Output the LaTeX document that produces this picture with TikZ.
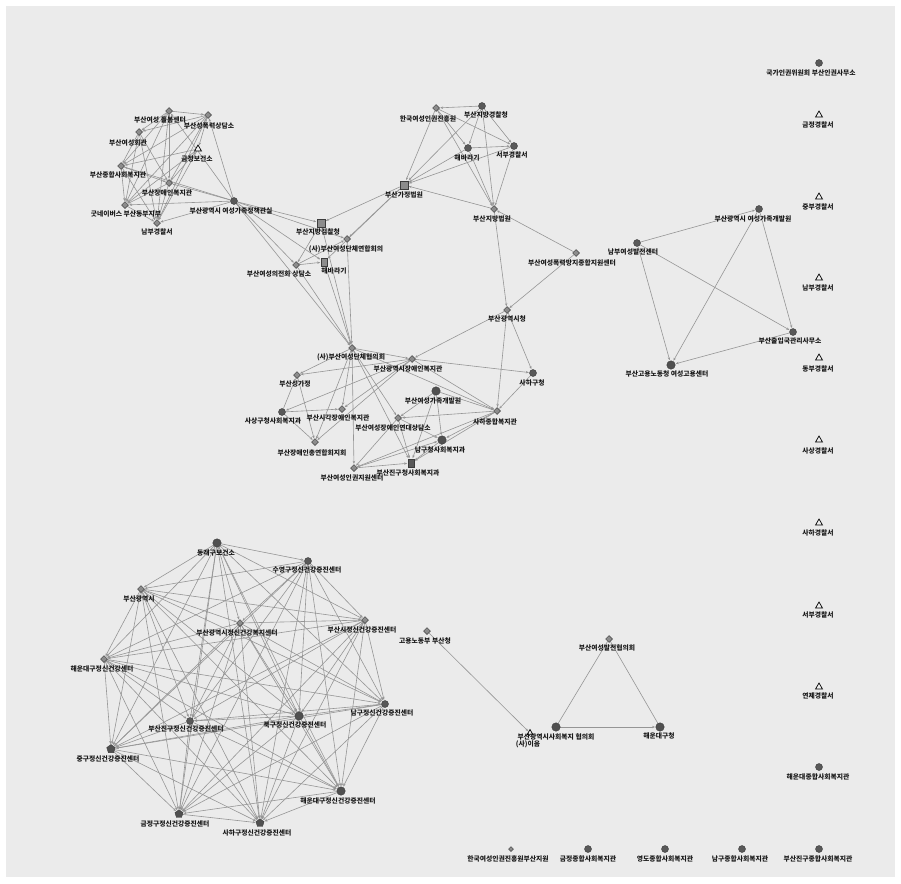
\documentclass[tikz,border=0pt]{standalone}
\usepackage{fontspec}
\newfontfamily\kr{Noto Sans CJK KR}
\usetikzlibrary{arrows.meta,shapes.geometric,backgrounds}
\definecolor{bg}{HTML}{EBEBEB}
\definecolor{edgec}{HTML}{959595}
\definecolor{dark}{HTML}{3C3C3C}
\definecolor{mid}{HTML}{8C8C8C}
\tikzset{
  dia/.style={diamond,draw=dark,fill=mid,line width=0.5pt,inner sep=0pt,minimum size=7pt},
  dot/.style={circle,draw=dark,fill=dark!85,inner sep=0pt,minimum size=7pt},
  bigdot/.style={circle,draw=dark,fill=dark!90,inner sep=0pt,minimum size=8.5pt},
  sq/.style={rectangle,draw=dark,fill=mid,line width=0.7pt,inner sep=0pt,minimum size=8pt},
  tri/.style={regular polygon,regular polygon sides=3,draw=black,fill=bg!80,line width=0.7pt,inner sep=0pt,minimum size=8pt},
  pent/.style={regular polygon,regular polygon sides=5,draw=dark,fill=dark!90,inner sep=0pt,minimum size=8.5pt},
  lab/.style={font=\kr\bfseries\fontsize{6.8}{7}\selectfont,inner sep=0pt,text=black!90},
  edge/.style={draw=edgec,line width=0.6pt,-{Stealth[length=3pt,width=2.4pt]},shorten >=0.5pt},
  pl/.style={draw=edgec,line width=0.6pt}
}
\begin{document}
\begin{tikzpicture}[x=1pt,y=-1pt]
\useasboundingbox (0,0) rectangle (901,883);

% ---------- top-left cluster
\node[dia] (A1) at (169,111) {};
\node[dia] (A2) at (208,115) {};
\node[dia] (A3) at (139,132) {};
\node[tri] (A4) at (198,149) {};
\node[dia] (A5) at (121,166) {};
\node[dia] (A6) at (169,183) {};
\node[dia] (A7) at (125,205) {};
\node[dia] (A8) at (157,223) {};
\node[dot] (A9) at (234,201) {};
\node[lab] (lA1) at (160,120) {부산여성 돌봄센터};
\node[lab] (lA2) at (209,126) {부산성폭력상담소};
\node[lab] (lA3) at (128,143) {부산여성회관};
\node[lab] (lA4) at (197,159) {금정보건소};
\node[lab] (lA5) at (118,175) {부산종합사회복지관};
\node[lab] (lA6) at (167,193) {부산장애인복지관};
\node[lab] (lA7) at (126,214) {굿네이버스 부산동부지부};
\node[lab] (lA8) at (157,232) {남부경찰서};
\node[lab] (lA9) at (231,211) {부산광역시 여성가족정책관실};

% ---------- middle upper
\node[sq] (B1) at (321,223) {};
\node[dia] (B2) at (347,239) {};
\node[dia] (B3) at (296,265) {};
\node[sq,minimum width=6pt,minimum height=8pt] (B4) at (324,262) {};
\node[sq] (B5) at (404,185) {};
\node[lab] (lB1) at (318,232) {부산지방검찰청};
\node[lab] (lB2) at (346,249) {(사)부산여성단체연합회의};
\node[lab] (lB3) at (279,274) {부산여성의전화 상담소};
\node[lab] (lB4) at (334,271) {해바라기};
\node[lab] (lB5) at (404,195) {부산가정법원};

% ---------- top middle cluster
\node[dia] (C1) at (436,108) {};
\node[dot] (C2) at (482,106) {};
\node[dot] (C3) at (468,148) {};
\node[dot] (C4) at (514,146) {};
\node[dia] (C5) at (494,209) {};
\node[dia] (C6) at (576,253) {};
\node[lab] (lC1) at (428,119) {한국여성인권진흥원};
\node[lab] (lC2) at (486,115) {부산지방경찰청};
\node[lab] (lC3) at (467,158) {해바라기};
\node[lab] (lC4) at (512,155) {서부경찰서};
\node[lab] (lC5) at (492,219) {부산지방법원};
\node[lab] (lC6) at (572,263) {부산여성폭력방지종합지원센터};

% ---------- right cluster
\node[dot] (D1) at (637,243) {};
\node[dot] (D2) at (759,209) {};
\node[dot] (D3) at (793,332) {};
\node[bigdot] (D4) at (671,365) {};
\node[lab] (lD1) at (633,252) {남부여성발전센터};
\node[lab] (lD2) at (753,219) {부산광역시 여성가족개발원};
\node[lab] (lD3) at (790,341) {부산출입국관리사무소};
\node[lab] (lD4) at (667,374) {부산고용노동청 여성고용센터};

% ---------- right column
\node[dot] (E0) at (819,63) {};
\node[lab] (lE0) at (811,73) {국가인권위원회 부산인권사무소};
\node[tri] (E1) at (819,115) {};
\node[tri] (E2) at (819,197) {};
\node[tri] (E3) at (819,278) {};
\node[tri] (E4) at (819,358) {};
\node[tri] (E5) at (819,440) {};
\node[tri] (E6) at (819,523) {};
\node[tri] (E7) at (819,606) {};
\node[tri] (E8) at (819,687) {};
\node[dot] (E9) at (819,767) {};
\node[lab] (lE1) at (818,125) {금정경찰서};
\node[lab] (lE2) at (818,207) {중부경찰서};
\node[lab] (lE3) at (818,288) {남부경찰서};
\node[lab] (lE4) at (818,369) {동부경찰서};
\node[lab] (lE5) at (818,451) {사상경찰서};
\node[lab] (lE6) at (818,533) {사하경찰서};
\node[lab] (lE7) at (818,615) {서부경찰서};
\node[lab] (lE8) at (818,696) {연제경찰서};
\node[lab] (lE9) at (818,777) {해운대종합사회복지관};

% ---------- bottom row
\node[dia,minimum size=5pt] (F1) at (511,849) {};
\node[dot] (F2) at (588,849) {};
\node[dot] (F3) at (665,849) {};
\node[dot] (F4) at (742,849) {};
\node[dot] (F5) at (819,849) {};
\node[lab] (lF1) at (508,859) {한국여성인권진흥원부산지원};
\node[lab] (lF2) at (588,859) {금정종합사회복지관};
\node[lab] (lF3) at (665,859) {영도종합사회복지관};
\node[lab] (lF4) at (740,859) {남구종합사회복지관};
\node[lab] (lF5) at (818,859) {부산진구종합사회복지관};

% ---------- triangle cluster
\node[dia] (G1) at (609,639) {};
\node[bigdot] (G2) at (556,727) {};
\node[tri,minimum size=7pt] (G3) at (530,733) {};
\node[bigdot] (G4) at (660,727) {};
\node[dia] (G5) at (427,631) {};
\node[lab] (lG1) at (607,648) {부산여성발전협의회};
\node[lab] (lG2) at (556,737) {부산광역시사회복지 협의회};
\node[lab] (lG3) at (528,744) {(사)이음};
\node[lab] (lG4) at (659,736) {해운대구청};
\node[lab] (lG5) at (425,641) {고용노동부 부산청};

% ---------- middle lower cluster
\node[dia] (H0) at (507,310) {};
\node[dia] (H1) at (352,348) {};
\node[dia] (H2) at (412,359) {};
\node[dot] (H3) at (533,373) {};
\node[dia] (H4) at (297,375) {};
\node[bigdot] (H5) at (436,391) {};
\node[dot] (H6) at (282,412) {};
\node[dia] (H7) at (342,409) {};
\node[dia] (H8) at (398,418) {};
\node[dia] (H9) at (497,411) {};
\node[dia] (H10) at (315,442) {};
\node[bigdot] (H11) at (442,440) {};
\node[sq,fill=dark!85,minimum width=6pt,minimum height=8pt] (H12) at (411,463) {};
\node[dia] (H13) at (354,468) {};
\node[lab] (lH0) at (507,319) {부산광역시청};
\node[lab] (lH1) at (351,357) {(사)부산여성단체협의회};
\node[lab] (lH2) at (408,369) {부산광역시장애인복지관};
\node[lab] (lH3) at (532,383) {사하구청};
\node[lab] (lH4) at (295,384) {부산성가정};
\node[lab] (lH5) at (433,401) {부산여성가족개발원};
\node[lab] (lH6) at (273,421) {사상구청사회복지과};
\node[lab] (lH7) at (338,418) {부산시각장애인복지관};
\node[lab] (lH8) at (393,428) {부산여성장애인연대상담소};
\node[lab] (lH9) at (495,422) {사하종합복지관};
\node[lab] (lH10) at (312,453) {부산장애인총연합회지회};
\node[lab] (lH11) at (440,450) {남구청사회복지과};
\node[lab] (lH12) at (408,473) {부산진구청사회복지과};
\node[lab] (lH13) at (352,478) {부산여성인권지원센터};

% ---------- bottom-left cluster
\node[bigdot] (K1) at (217,543) {};
\node[dot] (K2) at (308,561) {};
\node[dia] (K3) at (141,589) {};
\node[dia] (K4) at (240,623) {};
\node[dia] (K5) at (365,620) {};
\node[dia] (K6) at (104,659) {};
\node[dot] (K7) at (385,704) {};
\node[bigdot] (K8) at (299,716) {};
\node[dot] (K9) at (190,721) {};
\node[pent,minimum size=9pt] (K10) at (111,749) {};
\node[bigdot] (K11) at (341,791) {};
\node[pent] (K12) at (179,814) {};
\node[pent] (K13) at (260,823) {};
\node[lab] (lK1) at (216,553) {동래구보건소};
\node[lab] (lK2) at (307,570) {수영구정신건강증진센터};
\node[lab] (lK3) at (139,599) {부산광역시};
\node[lab] (lK4) at (237,633) {부산광역시정신건강복지센터};
\node[lab] (lK5) at (362,630) {부산시정신건강증진센터};
\node[lab] (lK6) at (102,669) {해운대구정신건강센터};
\node[lab] (lK7) at (382,713) {남구정신건강증진센터};
\node[lab] (lK8) at (295,725) {북구정신건강증진센터};
\node[lab] (lK9) at (186,729) {부산진구정신건강증진센터};
\node[lab] (lK10) at (108,759) {중구정신건강증진센터};
\node[lab] (lK11) at (338,801) {해운대구정신건강증진센터};
\node[lab] (lK12) at (175,824) {금정구정신건강증진센터};
\node[lab] (lK13) at (257,833) {사하구정신건강증진센터};

% ---------- background and edges (behind nodes)
\begin{scope}[on background layer]
\fill[white] (0,0) rectangle (901,883);
\fill[bg] (6,6) rectangle (895,877);
\foreach \a/\b in {A1/A2,A1/A3,A1/A5,A1/A6,A1/A8,A1/A7,A2/A3,A2/A5,A2/A6,A2/A7,A2/A8,A2/A4,
  A3/A5,A3/A6,A3/A8,A3/A7,A4/A5,A4/A7,A4/A8,A5/A6,A5/A7,A5/A8,A6/A7,A6/A8,A7/A8,A6/A4,
  A9/A2,A9/A5,A9/A6,A9/A7,A9/A8,A9/A1,
  A9/B1,A9/B3,A9/B4,A9/B2,
  B5/B1,B5/B2,B5/B4,B3/B4,B3/B2,B1/B3,
  B1/H1,B2/H1,B3/H1,B4/H1,A9/H1,
  C1/B5,C2/B5,C3/B5,C4/B5,C5/B5,
  C2/C1,C1/C3,C1/C4,C1/C5,C2/C3,C2/C4,C2/C5,C3/C4,C3/C5,C4/C5,
  C6/C5,C5/H0,C6/H0,
  D1/D2,D1/D3,D1/D4,D2/D4,D2/D3,D3/D4,
  H0/H2,H0/H3,H0/H9,
  H1/H2,H1/H4,H1/H7,H1/H8,H1/H12,H1/H13,H1/H10,H1/H9,
  H2/H3,H2/H9,H2/H4,H2/H6,H2/H7,H2/H10,
  H5/H8,H5/H9,H5/H11,H5/H12,
  H6/H7,H6/H10,H6/H4,H4/H10,
  H8/H12,H8/H13,H8/H11,
  H9/H11,H9/H12,H9/H13,H9/H8,H3/H9,
  H11/H12,H13/H12,H13/H11,
  G5/G3,G2/G4}
  \draw[edge] (\a) -- (\b);
\draw[pl] (G2) -- (G1);
\draw[pl] (G1) -- (G4);
\foreach \i in {1,...,12}{
  \pgfmathtruncatemacro\s{\i+1}
  \foreach \j in {\s,...,13}
    \draw[edge] (K\i) -- (K\j);
}
\end{scope}
\end{tikzpicture}
\end{document}
